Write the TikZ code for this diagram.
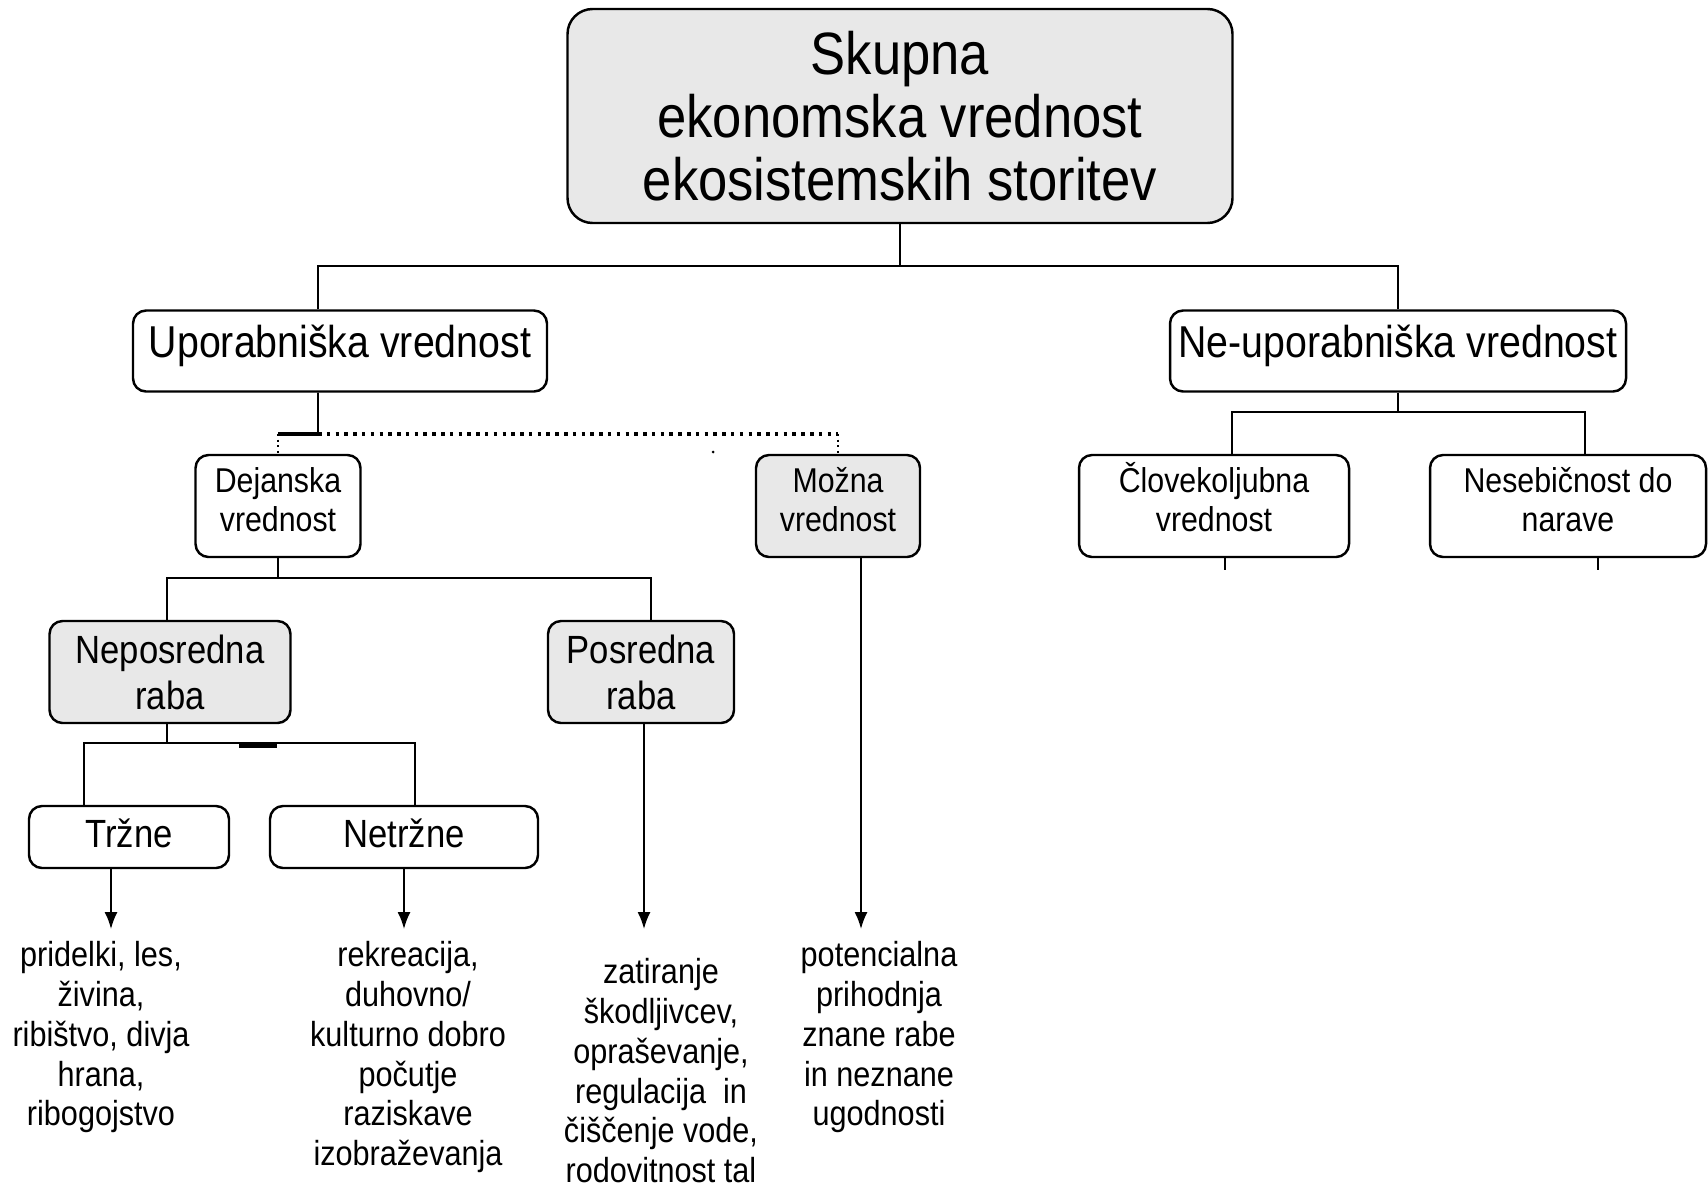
\documentclass[tikz,border=0pt]{standalone}
\usepackage{fontspec}
\setmainfont{Liberation Sans}[FakeStretch=0.88]
\usetikzlibrary{arrows.meta}
\definecolor{boxgray}{RGB}{232,232,232}
\newcommand{\fsize}[2]{\fontsize{#1}{#2}\selectfont}

\begin{document}
\begin{tikzpicture}[
    x=0.1mm, y=-0.1mm,
    box/.style={draw=black, rounded corners=1.3mm, align=center,
                line width=0.7pt, inner sep=0pt, fill=white},
    shaded/.style={box, fill=boxgray},
    small/.style={minimum height=10.2mm, font=\fsize{9.8}{11.1},
                  text height=18.3pt, text depth=3.7pt},
    mid/.style={font=\fsize{11.2}{13}, text height=21.2pt, text depth=0pt},
    single/.style={text height=8.2pt, text depth=2.5pt},
    big/.style={minimum height=8.1mm, font=\fsize{12.7}{14.6},
                text height=9.3pt, text depth=5.8pt},
    leaf/.style={align=center, inner sep=0pt, anchor=north, font=\fsize{9.9}{11.3}},
    link/.style={line width=0.5pt},
    dots/.style={line width=1pt, dash pattern=on 1pt off 1.5pt},
    thindots/.style={line width=0.4pt, dash pattern=on 0.6pt off 1pt},
    arrow/.style={-{Latex[length=1.7mm, width=1.3mm]}, line width=0.5pt, shorten >=1.2mm}
]
\useasboundingbox (0,0) rectangle (1708,1191);

\node[shaded, rounded corners=2.5mm, minimum width=66.5mm, minimum height=21.4mm,
      font=\fsize{17}{17.9}] (total) at (900,116) {Skupna\\ekonomska vrednost\\ekosistemskih storitev};

\node[box, big, minimum width=41.4mm] (upor) at (340,351) {Uporabniška vrednost};
\node[box, big, minimum width=45.6mm] (neupor) at (1398,351) {Ne-uporabniška vrednost};

\node[box, small, minimum width=16.5mm] (dejan) at (278,506) {Dejanska\\vrednost};
\node[shaded, small, minimum width=16.4mm] (mozna) at (838,506) {Možna\\vrednost};
\node[box, small, minimum width=27mm] (clov) at (1214,506) {Človekoljubna\\vrednost};
\node[box, small, minimum width=27.6mm] (nesebic) at (1568,506) {Nesebičnost do\\narave};

\node[shaded, mid, minimum width=24.1mm, minimum height=10.2mm] (neposr) at (170,672) {Neposredna\\raba};
\node[shaded, mid, minimum width=18.6mm, minimum height=10.2mm] (posr) at (641,672) {Posredna\\raba};

\node[box, mid, single, minimum width=20mm, minimum height=6.2mm] (trzne) at (129,837) {Tržne};
\node[box, mid, single, minimum width=26.8mm, minimum height=6.2mm] (netrzne) at (404,837) {Netržne};

\node[leaf] (pridelki) at (101,941) {pridelki, les,\\živina,\\ribištvo, divja\\hrana,\\ribogojstvo};
\node[leaf] (rekreacija) at (408,941) {rekreacija,\\duhovno/\\kulturno dobro\\počutje\\raziskave\\izobraževanja};
\node[leaf] (zatiranje) at (661,958) {zatiranje\\škodljivcev,\\opraševanje,\\regulacija\ \ in\\čiščenje vode,\\rodovitnost tal};
\node[leaf] (potencialna) at (879,941) {potencialna\\prihodnja\\znane rabe\\in neznane\\ugodnosti};

\coordinate (bus1) at (900,266);
\draw[link] (total.south) -- (bus1);
\draw[link] ([xshift=-2.2mm]upor.north) |- (bus1) -| (neupor.north);

\coordinate (bus2) at (318,434);
\draw[link] ([xshift=-2.2mm]upor.south) -- (bus2);
\draw[line width=1.1pt] (bus2) -- (bus2 -| dejan.north);
\draw[dots] (bus2) -- (bus2 -| mozna.north);
\draw[thindots] (bus2 -| dejan.north) -- (dejan.north);
\draw[thindots] (bus2 -| mozna.north) -- (mozna.north);
\fill (713,452) circle (0.15mm);

\coordinate (bus3) at (1398,412);
\draw[link] (neupor.south) -- (bus3);
\draw[link] ([xshift=1.8mm]clov.north) |- (bus3) -| ([xshift=1.7mm]nesebic.north);
\draw[link] ([xshift=1.1mm]clov.south) -- ++(0,12);
\draw[link] ([xshift=3mm]nesebic.south) -- ++(0,12);

\coordinate (bus4) at (278,578);
\draw[link] (dejan.south) -- (bus4);
\draw[link] ([xshift=-0.3mm]neposr.north) |- (bus4) -| ([xshift=1mm]posr.north);

\coordinate (bus5) at (167,743);
\draw[link] ([xshift=-0.3mm]neposr.south) -- (bus5);
\draw[link] ([xshift=-4.5mm]trzne.north) |- (bus5) -| ([xshift=1.1mm]netrzne.north);
\draw[line width=1.2pt] (239,746) -- (277,746);

\draw[arrow] ([xshift=-1.8mm]trzne.south) -- ([xshift=-1.8mm]trzne.south |- pridelki.north);
\draw[arrow] (netrzne.south) -- (netrzne.south |- rekreacija.north);
\draw[arrow] ([xshift=0.3mm]posr.south) -- ([xshift=0.3mm]posr.south |- pridelki.north);
\draw[arrow] ([xshift=2.3mm]mozna.south) -- ([xshift=2.3mm]mozna.south |- potencialna.north);
\end{tikzpicture}
\end{document}
